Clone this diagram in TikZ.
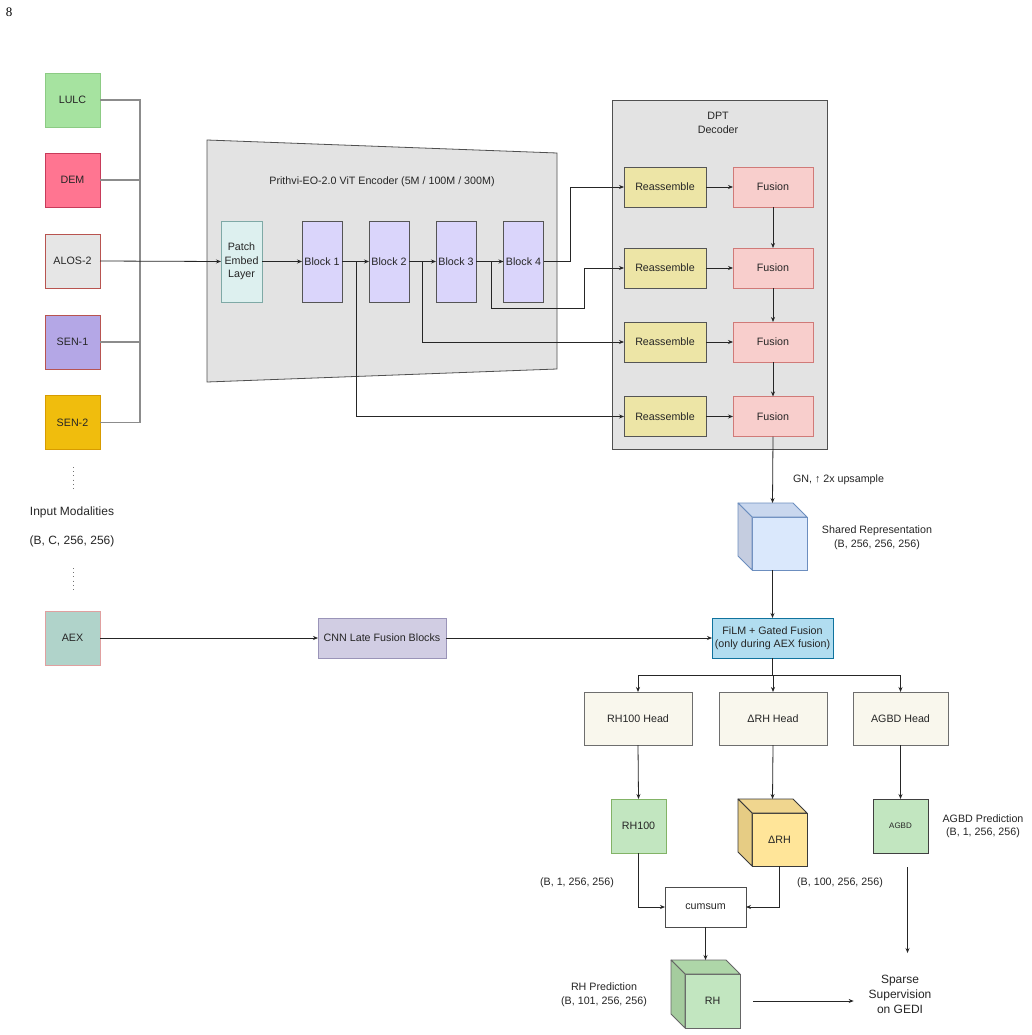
\documentclass[tikz,border=0pt]{standalone}
\usepackage{fontspec}
\setmainfont{Liberation Sans}
\newfontfamily\pagenumfont{Liberation Serif}
\usetikzlibrary{arrows.meta,calc}

\definecolor{lulcF}{HTML}{A6E3A0}\definecolor{lulcD}{HTML}{8CCB84}
\definecolor{demF}{HTML}{FF7591}\definecolor{demD}{HTML}{C73B5A}
\definecolor{alosF}{HTML}{E6E6E6}\definecolor{redD}{HTML}{B85450}
\definecolor{sen1F}{HTML}{B4A7E6}
\definecolor{sen2F}{HTML}{F0BD0D}\definecolor{sen2D}{HTML}{D79B00}
\definecolor{aexF}{HTML}{B0D3CA}\definecolor{aexD}{HTML}{E0A0A0}
\definecolor{cnnF}{HTML}{D1CDE3}\definecolor{cnnD}{HTML}{9A94B8}
\definecolor{encF}{HTML}{E3E3E3}\definecolor{encD}{HTML}{505050}
\definecolor{patchF}{HTML}{DDF0EF}\definecolor{patchD}{HTML}{7FA9A6}
\definecolor{blockF}{HTML}{DAD5FB}\definecolor{blockD}{HTML}{555555}
\definecolor{reaF}{HTML}{EDE5A6}\definecolor{reaD}{HTML}{555555}
\definecolor{fusF}{HTML}{F8CECC}\definecolor{fusD}{HTML}{D07A78}
\definecolor{shF}{HTML}{DAE8FC}\definecolor{shT}{HTML}{C9D7EE}\definecolor{shS}{HTML}{C5CDE0}\definecolor{shD}{HTML}{6C8EBF}
\definecolor{filmF}{HTML}{B1DDF0}\definecolor{filmD}{HTML}{10739E}
\definecolor{headF}{HTML}{F9F7ED}\definecolor{headD}{HTML}{6E6E6E}
\definecolor{grnF}{HTML}{C2E6C0}\definecolor{grnD}{HTML}{82B366}
\definecolor{grnT}{HTML}{AED6A8}\definecolor{grnS}{HTML}{A5CC9E}
\definecolor{ylwF}{HTML}{FFE599}\definecolor{ylwT}{HTML}{F0D68F}\definecolor{ylwS}{HTML}{E6CC84}\definecolor{ylwD}{HTML}{3A3A3A}

\newcommand\cubefaces[4]{%
  \filldraw[fill=#2,draw=#4,line width=0.8pt,line join=round]
    (#1.north west) -- ++(-14,-14) -- ($(#1.north east)+(-14,-14)$) -- (#1.north east) -- cycle;
  \filldraw[fill=#3,draw=#4,line width=0.8pt,line join=round]
    (#1.north west) -- ++(-14,-14) -- ($(#1.south west)+(-14,-14)$) -- (#1.south west) -- cycle;}

\tikzset{
  box/.style={draw, rectangle, inner sep=0pt, outer sep=0pt, align=center,
    font=\fontsize{10.7}{13.5}\selectfont, line width=0.8pt, text=black!85},
  modal/.style={box, minimum width=55, minimum height=54},
  lbl/.style={inner sep=0pt, outer sep=0pt, align=center, font=\fontsize{10.7}{13.5}\selectfont, text=black!85},
  biglbl/.style={lbl, font=\fontsize{12}{15}\selectfont},
  arr/.style={-{Stealth[length=5pt,width=4pt]}, line width=0.8pt, draw=black!85},
  gline/.style={line width=1.1pt, draw=black!45},
}

\begin{document}
\begin{tikzpicture}[x=1pt,y=-1pt]
\useasboundingbox[fill=white] (0,0) rectangle (1031,1035);

\node[anchor=center, inner sep=0pt, font=\pagenumfont\fontsize{13}{14}\selectfont] (pg) at (9,12) {8};

% encoder trapezoid and decoder panel
\filldraw[fill=encF, draw=encD, line width=0.8pt] (207,140) -- (557,153) -- (557,369) -- (207,382) -- cycle;
\node[lbl] (enctitle) at (382,182) {Prithvi-EO-2.0 ViT Encoder (5M / 100M / 300M)};
\filldraw[fill=encF, draw=encD, line width=0.8pt] (612,100) rectangle (827,449);
\node[lbl] (dpttitle) at (718,123) {DPT\\Decoder};

% input modalities
\node[modal, fill=lulcF, draw=lulcD] (lulc) at (72.5,100) {LULC};
\node[modal, fill=demF, draw=demD] (dem) at (72.5,180) {DEM};
\node[modal, fill=alosF, draw=redD] (alos) at (72.5,261) {ALOS-2};
\node[modal, fill=sen1F, draw=redD] (sen1) at (72.5,342) {SEN-1};
\node[modal, fill=sen2F, draw=sen2D] (sen2) at (72.5,422.5) {SEN-2};
\node[modal, fill=aexF, draw=aexD] (aex) at (72.5,638) {AEX};

\draw[line width=1pt, draw=black!55, dash pattern=on 1pt off 3.2pt] (73,467) -- (73,491);
\draw[line width=1pt, draw=black!55, dash pattern=on 1pt off 3.2pt] (73,568) -- (73,592);
\node[biglbl] (inmod) at (72,512) {Input Modalities};
\node[biglbl] (inshape) at (72,541) {(B, C, 256, 256)};

% encoder blocks
\node[box, fill=patchF, draw=patchD, minimum width=41, minimum height=81] (patch) at (241.5,261.5) {Patch\\Embed\\Layer};
\node[box, fill=blockF, draw=blockD, minimum width=40, minimum height=81] (b1) at (322,261.5) {Block 1};
\node[box, fill=blockF, draw=blockD, minimum width=40, minimum height=81] (b2) at (389,261.5) {Block 2};
\node[box, fill=blockF, draw=blockD, minimum width=40, minimum height=81] (b3) at (456,261.5) {Block 3};
\node[box, fill=blockF, draw=blockD, minimum width=40, minimum height=81] (b4) at (523.5,261.5) {Block 4};

% decoder blocks
\foreach \i/\y in {1/187,2/268,3/342,4/416.5}{
  \node[box, fill=reaF, draw=reaD, minimum width=82, minimum height=40] (re\i) at (665,\y) {Reassemble};
  \node[box, fill=fusF, draw=fusD, minimum width=80, minimum height=40] (fu\i) at (773,\y) {Fusion};
  \draw[arr] (re\i.east) -- (fu\i.west);
}
\draw[arr] (fu1.south) -- (fu2.north);
\draw[arr] (fu2.south) -- (fu3.north);
\draw[arr] (fu3.south) -- (fu4.north);

% input bus
\draw[gline] (lulc.east) -- (140,100) -- (140,422.5) -- (sen2.east);
\draw[gline] (dem.east) -- (140,180);
\draw[gline] (sen1.east) -- (140,342);
\draw[arr] (alos.east) -- (patch.west);

% encoder connections
\draw[arr] (patch.east) -- (b1.west);
\draw[arr] (b1.east) -- (b2.west);
\draw[arr] (b2.east) -- (b3.west);
\draw[arr] (b3.east) -- (b4.west);
\draw[arr] (b4.east) -- (570,261.5) |- (re1.west);
\draw[arr] (491,261.5) -- (491,308) -- (584,308) |- (re2.west);
\draw[arr] (422,261.5) |- (re3.west);
\draw[arr] (356,261.5) |- (re4.west);

% shared representation cube
\node[minimum width=69, minimum height=67, inner sep=0pt, outer sep=0pt] (shared) at (772.5,536.5) {};
\node[box, fill=shF, draw=shD, minimum width=55, minimum height=53] (sharedf) at (779.5,543.5) {};
\cubefaces{sharedf}{shT}{shS}{shD}
\draw[arr] (fu4.south) -- (shared.north);
\node[lbl, anchor=west] (gn) at (793,480) {GN, ↑ 2x upsample};
\node[lbl] (sharedlbl) at (877,537.5) {Shared Representation\\(B, 256, 256, 256)};

% AEX path
\node[box, fill=cnnF, draw=cnnD, minimum width=128, minimum height=40] (cnn) at (382,638) {CNN Late Fusion Blocks};
\node[box, fill=filmF, draw=filmD, minimum width=121, minimum height=40] (film) at (772.5,638) {FiLM + Gated Fusion\\(only during AEX fusion)};
\draw[arr] (aex.east) -- (cnn.west);
\draw[arr] (cnn.east) -- (film.west);
\draw[arr] (shared.south) -- (film.north);

% heads
\node[box, fill=headF, draw=headD, minimum width=108, minimum height=53] (rhhead) at (638,718.5) {RH100 Head};
\node[box, fill=headF, draw=headD, minimum width=108, minimum height=53] (dhead) at (773,718.5) {ΔRH Head};
\node[box, fill=headF, draw=headD, minimum width=95, minimum height=53] (ahead) at (900.5,718.5) {AGBD Head};
\coordinate (split) at ($(film.south)+(0,17)$);
\draw[arr] (film.south) -- (split) -| (rhhead.north);
\draw[arr] (split) -| (dhead.north);
\draw[arr] (split) -| (ahead.north);

% outputs
\node[box, fill=grnF, draw=grnD, minimum width=55, minimum height=54] (rh100) at (638.5,826) {RH100};
\node[minimum width=69, minimum height=67, inner sep=0pt, outer sep=0pt] (drh) at (772.5,832.5) {};
\node[box, fill=ylwF, draw=ylwD, minimum width=55, minimum height=53] (drhf) at (779.5,839.5) {ΔRH};
\cubefaces{drhf}{ylwT}{ylwS}{ylwD}
\node[box, fill=grnF, draw=black!75, minimum width=55, minimum height=54, font=\fontsize{8}{9}\selectfont] (agbd) at (900.5,826) {AGBD};
\node[lbl] (agbdlbl) at (983,826) {AGBD Prediction\\(B, 1, 256, 256)};

\draw[arr] (rhhead.south) -- (rh100.north);
\draw[arr] (dhead.south) -- (drh.north);
\draw[arr] (ahead.south) -- (agbd.north);

\node[lbl] (s1) at (577,883) {(B, 1, 256, 256)};
\node[lbl] (s100) at (840,883) {(B, 100, 256, 256)};

\node[box, fill=white, draw=black!70, minimum width=81, minimum height=40] (cumsum) at (705.5,907) {cumsum};
\draw[arr] (rh100.south) |- (cumsum.west);
\draw[arr] (drhf.south) |- (cumsum.east);

\node[minimum width=69, minimum height=68, inner sep=0pt, outer sep=0pt] (rh) at (705.5,994) {};
\node[box, fill=grnF, draw=black!60, minimum width=55, minimum height=54] (rhf) at (712.5,1001) {RH};
\cubefaces{rhf}{grnT}{grnS}{black!60}
\draw[arr] (cumsum.south) -- (rh.north);
\node[lbl] (rhlbl) at (604,994.5) {RH Prediction\\(B, 101, 256, 256)};

\node[biglbl, inner xsep=15pt] (sparse) at (900,994) {Sparse\\Supervision\\on GEDI};
\draw[arr] ($(rhf.east)+(13,0)$) -- (sparse.west |- rhf.east);
\draw[arr] ($(agbd.south)+(7,14)$) -- ($(agbd.south)+(7,100)$);
\end{tikzpicture}
\end{document}
